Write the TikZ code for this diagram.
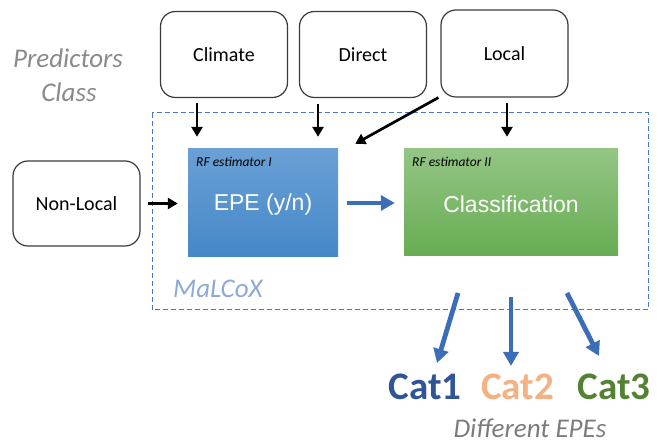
\documentclass[tikz,border=0pt]{standalone}
\usepackage{fontspec}
\setmainfont{Carlito}
\newfontfamily\arialf{Liberation Sans}
\usetikzlibrary{arrows.meta,calc}
\definecolor{boxline}{HTML}{3A3A3A}
\definecolor{dashblue}{HTML}{4A76C0}
\definecolor{arrblue}{HTML}{3B6DB8}
\definecolor{bluetop}{HTML}{6AA0D5}
\definecolor{bluebot}{HTML}{4588C8}
\definecolor{greentop}{HTML}{94C585}
\definecolor{greenbot}{HTML}{67AD52}
\definecolor{malcox}{HTML}{8EA9D8}
\definecolor{graytxt}{HTML}{8A8A8A}
\definecolor{catone}{HTML}{2F5597}
\definecolor{cattwo}{HTML}{F4B183}
\definecolor{catthree}{HTML}{548235}
\tikzset{
  predbox/.style={draw=boxline, line width=1.2pt, rounded corners=15pt, minimum width=127pt, minimum height=86pt, inner sep=0pt, font=\fontsize{20}{24}\selectfont},
  blk/.style={draw=black, line width=2.7pt, -{Triangle[length=10pt,width=11pt]}},
  bluearr/.style={draw=arrblue, line width=4.8pt, -{Triangle[length=14pt,width=15pt]}},
  smalllab/.style={font=\fontsize{13.5}{15}\selectfont\itshape, anchor=west, inner sep=0pt},
  bigwhite/.style={text=white, font=\arialf\fontsize{23}{26}\selectfont},
}
\begin{document}
\begin{tikzpicture}[x=1pt,y=-1pt]
\useasboundingbox (0,0) rectangle (657,446);
% dashed frame
\draw[dashblue, line width=1pt, dash pattern=on 5pt off 3pt] (152,113) rectangle (648,310);
% predictor boxes
\node[predbox] (climate) at (224,54.5) {Climate};
\node[predbox] (direct) at (363,54.5) {Direct};
\node[predbox, minimum width=127pt, minimum height=87pt] (local) at (504.5,53.5) {Local};
\node[predbox, minimum width=127pt, minimum height=85pt] (nonlocal) at (76.5,203.5) {Non-Local};
% estimator boxes
\shade[top color=bluetop, bottom color=bluebot] (188,149) rectangle (338,257);
\node[minimum width=150pt, minimum height=108pt, inner sep=0pt] (epe) at (263,203) {};
\node[bigwhite] at (263,205) {EPE (y/n)};
\shade[top color=greentop, bottom color=greenbot] (404,149) rectangle (618,256);
\node[minimum width=214pt, minimum height=107pt, inner sep=0pt] (cls) at (511,202.5) {};
\node[bigwhite] at (511,204) {Classification};
\node[smalllab] (rf1) at (196,162) {RF estimator I};
\node[smalllab] (rf2) at (412,162) {RF estimator II};
% labels
\node[text=graytxt, font=\fontsize{27}{30}\selectfont\itshape, anchor=base, inner sep=0pt] (pred) at (68,68) {Predictors};
\node[text=graytxt, font=\fontsize{27}{30}\selectfont\itshape, anchor=base, inner sep=0pt] (cls2) at (69,101.5) {Class};
\node[text=malcox, font=\fontsize{27}{30}\selectfont\itshape, anchor=base west, inner sep=0pt] (mal) at (173,298) {MaLCoX};
\node[text=catone, font=\fontsize{39}{42}\selectfont\bfseries, anchor=base, inner sep=0pt] (cat1) at (425,400) {Cat1};
\node[text=cattwo, font=\fontsize{39}{42}\selectfont\bfseries, anchor=base, inner sep=0pt] (cat2) at (517.5,400) {Cat2};
\node[text=catthree, font=\fontsize{39}{42}\selectfont\bfseries, anchor=base, inner sep=0pt] (cat3) at (614,400) {Cat3};
\node[text=graytxt!90!black, font=\fontsize{27}{30}\selectfont\itshape, anchor=base, inner sep=0pt] (diff) at (530,438) {Different EPEs};
% black arrows
\draw[blk, shorten <=5pt, shorten >=12pt] ([xshift=-27pt]climate.south) -- ([xshift=-27pt]climate.south |- epe.north);
\draw[blk, shorten <=6pt, shorten >=12pt] ([xshift=-45pt]direct.south) -- ([xshift=-45pt]direct.south |- epe.north);
\draw[blk, shorten <=5pt, shorten >=12pt] ([xshift=2.5pt]local.south) -- ([xshift=2.5pt]local.south |- cls.north);
\draw[blk] ([xshift=-2pt]local.south west) -- ([xshift=17pt,yshift=5pt]epe.north east);
\draw[blk, shorten <=7pt, shorten >=10pt] (nonlocal.east) -- (epe.west |- nonlocal.east);
% blue arrows
\draw[bluearr, shorten <=9pt, shorten >=9pt] (epe.east) -- (cls.west |- epe.east);
\coordinate (s1) at (458,293); \coordinate (e1) at (437,363);
\coordinate (s2) at (511,297); \coordinate (e2) at (511,366);
\coordinate (s3) at (567,293); \coordinate (e3) at (599,356);
\draw[bluearr] (s1) -- (e1);
\draw[bluearr] (s2) -- (e2);
\draw[bluearr] (s3) -- (e3);
\end{tikzpicture}
\end{document}
